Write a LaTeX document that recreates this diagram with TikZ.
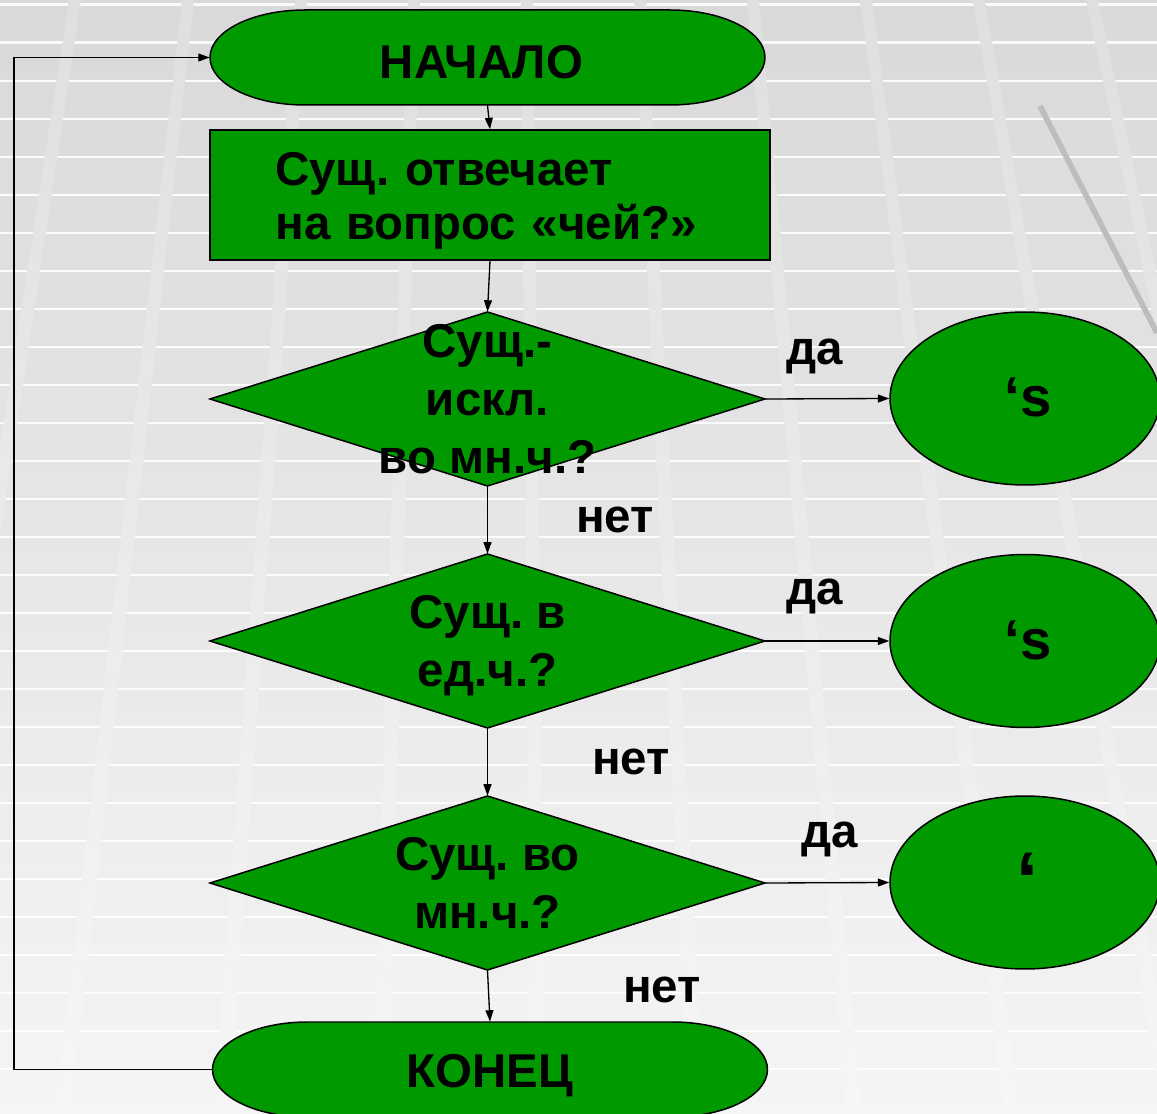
\documentclass[tikz,border=0pt]{standalone}
\usepackage{fontspec}
\setmainfont{Liberation Sans}
\usetikzlibrary{arrows.meta,shapes.geometric}
\definecolor{boxgreen}{RGB}{0,153,0}

% start / end block with flat elliptic ends
\newcommand{\terminal}[3]{%
  \filldraw[shape line] (#2-182.5,#3+47.5) -- (#2+182.5,#3+47.5)
    arc[start angle=90,end angle=-90,x radius=1.9cm,y radius=0.95cm]
    -- (#2-182.5,#3-47.5)
    arc[start angle=270,end angle=90,x radius=1.9cm,y radius=0.95cm] -- cycle;
  \node[minimum width=11.1cm,minimum height=1.9cm,inner sep=0pt] (#1) at (#2,#3) {};
}
% question block, text may run out of the diamond
\newcommand{\decision}[3]{%
  \filldraw[shape line] (#2,#3+87) -- (#2+277.5,#3) -- (#2,#3-87) -- (#2-277.5,#3) -- cycle;
  \node[minimum width=11.1cm,minimum height=3.48cm,inner sep=0pt] (#1) at (#2,#3) {};
}

\begin{document}
\frenchspacing
\begin{tikzpicture}[x=0.02cm,y=0.02cm,
    shape line/.style={draw=black,fill=boxgreen,line width=0.85pt},
    label text/.style={font=\fontsize{27}{33}\selectfont\bfseries,inner sep=0pt},
    arrow/.style={-{Triangle[length=6.5pt,width=4.5pt]},line width=0.75pt},
    tile line/.style={white,line width=1.7pt,opacity=0.9}]

    \useasboundingbox (0,0) rectangle (1157,-1114);
    % slide background
    \shade[top color=gray!30,bottom color=gray!8] (0,0) rectangle (1157,-1114);
    \foreach \y in {5,43,...,1100} {
        \draw[tile line] (0,-\y) -- (1157,-\y);
    }
    \foreach \t in {75,188,...,1100} {
        \shade[top color=gray!25,bottom color=gray!7] (\t-6,0) -- (\t+6,0) -- (1.4*\t-192,-1114) -- (1.4*\t-208,-1114) -- cycle;
    }
    \draw[gray!52,line width=3.2pt] (1040,-106) -- (1157,-333);

    \terminal{start}{487.5}{-57.5}
    \node[label text] (start-text) at (481.5,-79) [anchor=base] {НАЧАЛО};
    \node[draw,fill=boxgreen,line width=0.85pt,minimum width=11.2cm,minimum height=2.6cm] (check) at (490,-195) {};
    \node[label text,font=\fontsize{27}{30.6}\selectfont\bfseries,text width=8.6cm,align=left,anchor=north west]
        (check-text) at (275,-152) {Сущ. отвечает\\на вопрос «чей?»};
    \decision{qexc}{487.5}{-399}
    \node[label text,align=center] (qexc-text) at (487.5,-399) {Сущ.-\\искл.\\во мн.ч.?};
    \decision{qsing}{487.5}{-641}
    \node[label text,align=center] (qsing-text) at (487.5,-646) {Сущ. в\\ед.ч.?};
    \decision{qplur}{487.5}{-883}
    \node[label text,align=center] (qplur-text) at (487.5,-883) {Сущ. во\\мн.ч.?};
    \terminal{stop}{490}{-1069.5}
    \node[label text] (stop-text) at (490,-1087) [anchor=base] {КОНЕЦ};

    \node[ellipse,shape line,minimum width=5.4cm,minimum height=3.46cm] (resA) at (1025,-398.5) {};
    \node[ellipse,shape line,minimum width=5.4cm,minimum height=3.46cm] (resB) at (1025,-641) {};
    \node[ellipse,shape line,minimum width=5.4cm,minimum height=3.46cm] (resC) at (1025,-882.5) {};
    \node[label text,font=\fontsize{32}{36}\selectfont\bfseries,anchor=base] (resA-text) at (1028,-417) {‘s};
    \node[label text,font=\fontsize{32}{36}\selectfont\bfseries,anchor=base] (resB-text) at (1028,-659.5) {‘s};
    \node[label text,font=\fontsize{45}{50}\selectfont\bfseries,anchor=base] (resC-text) at (1027.5,-907) {‘};

    \draw[arrow] (start.south) -- (check.north);
    \draw[arrow] (check.south) -- (qexc.north);
    \draw[arrow] (qexc.south) -- (qsing.north);
    \draw[arrow] (qsing.south) -- (qplur.north);
    \draw[arrow] (qplur.south) -- (stop.north);
    \draw[arrow] (qexc.east) -- (resA.west);
    \draw[arrow] (qsing.east) -- (resB.west);
    \draw[arrow] (qplur.east) -- (resC.west);

    \node[label text,anchor=base] (yesA) at (815,-365) {да};
    \node[label text,anchor=base] (yesB) at (815,-605) {да};
    \node[label text,anchor=base] (yesC) at (830,-847) {да};
    \node[label text,anchor=base] (noA) at (615,-533) {нет};
    \node[label text,anchor=base] (noB) at (631,-775) {нет};
    \node[label text,anchor=base] (noC) at (662,-1002) {нет};

    % back to the start
    \coordinate (loop) at (14,-1069.5);
    \draw[arrow] (stop.west) -- (loop) |- (start.west);
\end{tikzpicture}
\end{document}
